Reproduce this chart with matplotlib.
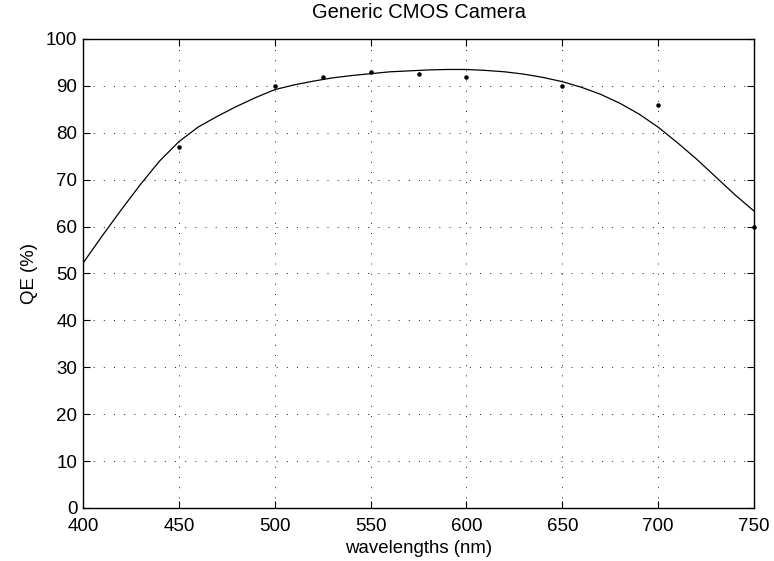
import numpy as np
import matplotlib
matplotlib.use("Agg")
import matplotlib.pyplot as plt

# measured QE points
meas_wl = [450, 500, 525, 550, 575, 600, 650, 700, 750]
meas_qe = [77.0, 90.0, 92.0, 93.0, 92.5, 92.0, 90.0, 86.0, 60.0]

# fitted QE curve, sampled every 10 nm
fit_wl = list(range(400, 751, 10))
fit_qe = [52.2, 58.0, 63.6, 69.0, 74.0, 78.1, 81.2, 83.5, 85.6, 87.5,
          89.2, 90.2, 91.0, 91.7, 92.2, 92.6, 93.0, 93.2, 93.4, 93.5,
          93.5, 93.3, 93.0, 92.5, 91.8, 90.9, 89.7, 88.2, 86.3, 84.0,
          81.2, 77.9, 74.4, 70.6, 66.8, 63.3]

plt.rcParams['font.family'] = ['Liberation Sans', 'DejaVu Sans']

fig = plt.figure(figsize=(7.74, 5.61), dpi=100)
ax = fig.add_axes([0.1072, 0.0945, 0.867, 0.836])

ax.plot(fit_wl, fit_qe, color='black', lw=0.9)
ax.plot(meas_wl, meas_qe, 'k.', markersize=4.5, clip_on=False)

ax.set_xlim(400, 750)
ax.set_ylim(0, 100)
ax.set_xticks(np.arange(400, 751, 50))
ax.set_yticks(np.arange(0, 101, 10))
ax.grid(True, color='black', lw=0.6, linestyle=(0, (1.2, 11)))
ax.tick_params(direction='in', length=5, width=0.8, labelsize=13.5,
               top=True, right=True)
ax.tick_params(axis='x', pad=7)
ax.tick_params(axis='y', pad=4)
for s in ax.spines.values():
    s.set_linewidth(1.0)

ax.set_title('Generic CMOS Camera', fontsize=14.5, pad=15)
ax.set_xlabel('wavelengths (nm)', fontsize=13.4, labelpad=4)
ax.set_ylabel('QE (%)', fontsize=13.4, labelpad=6)

fig.savefig('out.png', dpi=100)
